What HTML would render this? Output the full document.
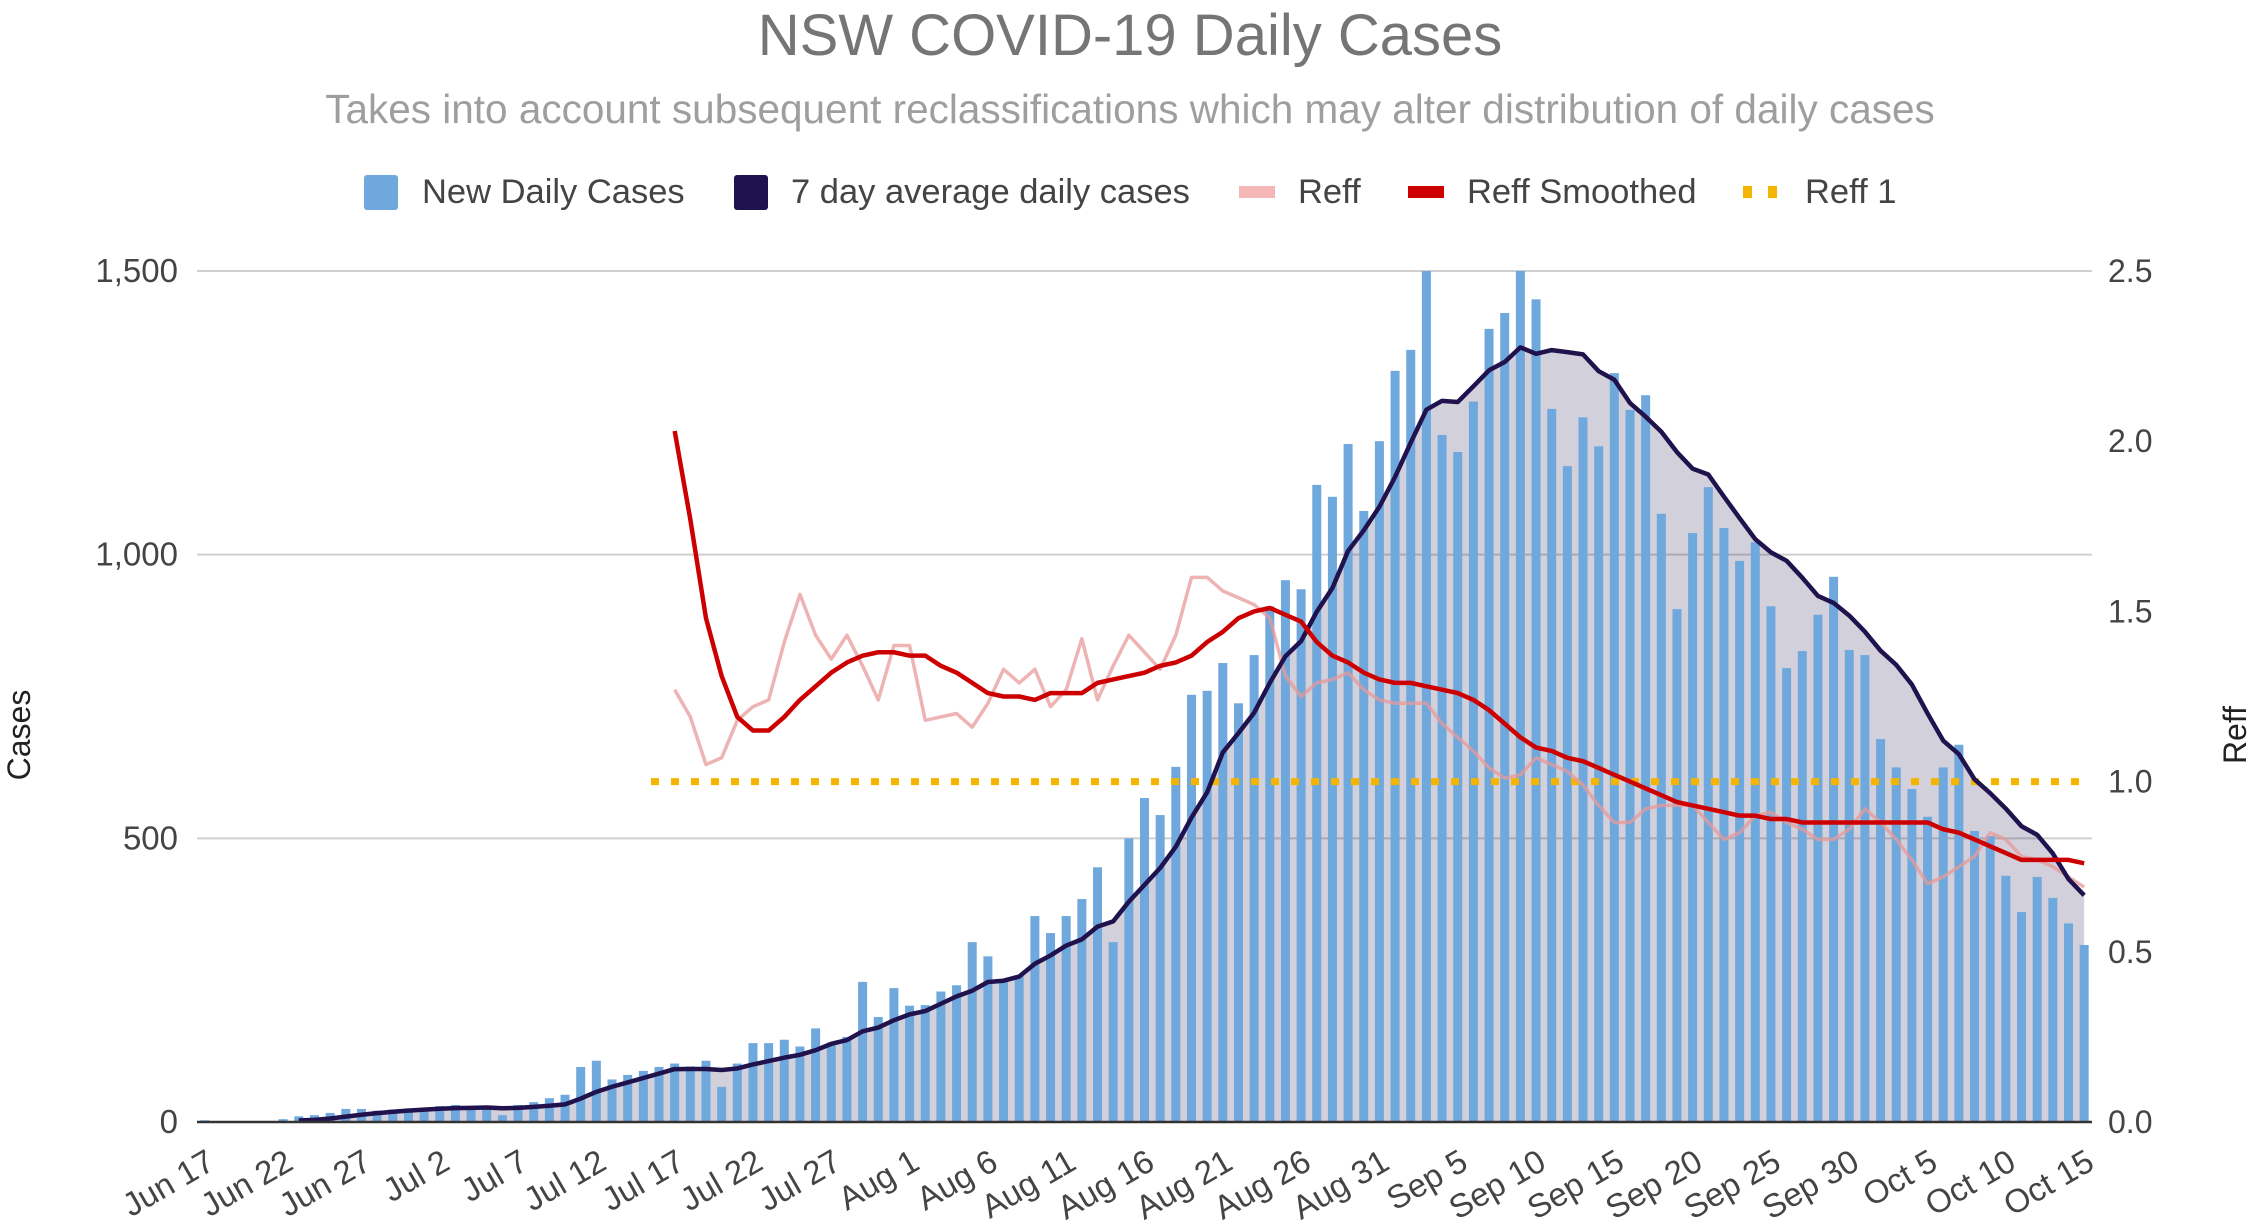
<!DOCTYPE html>
<html><head><meta charset="utf-8"><style>
html,body{margin:0;padding:0;background:#fff;width:2259px;height:1227px;overflow:hidden}
svg text{font-family:"Liberation Sans",Arial,sans-serif}
</style></head><body>
<svg id="chart" width="2259" height="1227" viewBox="0 0 2259 1227" xmlns="http://www.w3.org/2000/svg">
<text x="1130" y="55" text-anchor="middle" font-size="58" fill="#757575">NSW COVID-19 Daily Cases</text>
<text x="1130" y="123" text-anchor="middle" font-size="40.5" fill="#9e9e9e">Takes into account subsequent reclassifications which may alter distribution of daily cases</text>
<g font-size="34.5" fill="#444">
 <g><rect x="364" y="175" width="34" height="35" rx="3" fill="#6fa8dc"/><text x="422" y="203">New Daily Cases</text></g>
 <g><rect x="734" y="175" width="34" height="35" rx="3" fill="#20124d"/><text x="791" y="203">7 day average daily cases</text></g>
 <g><rect x="1239" y="186" width="36" height="12" fill="#f4b6b6"/><text x="1298" y="203">Reff</text></g>
 <g><rect x="1408" y="186" width="36" height="12" fill="#cc0000"/><text x="1467" y="203">Reff Smoothed</text></g>
 <g><rect x="1743" y="186" width="9" height="12" fill="#f4b400"/><rect x="1768" y="186" width="9" height="12" fill="#f4b400"/><text x="1805" y="203">Reff 1</text></g>
</g>
<g id="grid"></g>
<g id="area"></g>
<g id="bars"></g>
<g id="lines"></g>
<g id="axes"></g>
<text transform="translate(30,735) rotate(-90)" text-anchor="middle" font-size="32" fill="#222">Cases</text>
<text transform="translate(2246,735) rotate(-90)" text-anchor="middle" font-size="32" fill="#222">Reff</text>
</svg>
<script>
const cases = [3,0,0,0,0,5,10,12,16,23,23,20,22,24,24,28,30,26,25,12,30,35,42,48,97,108,75,83,90,97,
103,98,108,62,103,139,139,145,133,165,140,150,247,185,236,205,206,230,241,317,292,252,257,363,333,363,393,449,317,500,
571,541,626,753,760,809,738,823,909,955,939,1123,1102,1195,1077,1200,1324,1361,1530,1211,1181,1270,1398,1426,1542,1450,1257,1156,1242,1191,
1320,1255,1281,1072,904,1038,1119,1047,989,1022,909,800,830,894,961,832,823,675,625,587,538,625,665,513,504,434,370,432,395,350,312];
const reffStart = 30;
const reffRaw = [1.27,1.19,1.05,1.07,1.18,1.22,1.24,1.41,1.55,1.43,1.36,1.43,1.34,1.24,1.40,1.40,1.18,1.19,1.20,1.16,
1.23,1.33,1.29,1.33,1.22,1.27,1.42,1.24,1.34,1.43,1.38,1.33,1.43,1.60,1.60,1.56,1.54,1.52,1.48,1.31,
1.25,1.29,1.30,1.32,1.27,1.24,1.23,1.23,1.23,1.17,1.13,1.09,1.04,1.01,1.02,1.07,1.05,1.03,0.99,0.93,
0.88,0.88,0.92,0.93,0.93,0.93,0.88,0.83,0.85,0.90,0.91,0.88,0.86,0.83,0.83,0.86,0.92,0.88,0.83,0.77,
0.70,0.72,0.75,0.78,0.85,0.83,0.78,0.77,0.75,0.72,0.69];
const reffSmooth = [2.03,1.77,1.48,1.31,1.19,1.15,1.15,1.19,1.24,1.28,1.32,1.35,1.37,1.38,1.38,1.37,1.37,1.34,1.32,1.29,
1.26,1.25,1.25,1.24,1.26,1.26,1.26,1.29,1.30,1.31,1.32,1.34,1.35,1.37,1.41,1.44,1.48,1.50,1.51,1.49,
1.47,1.41,1.37,1.35,1.32,1.30,1.29,1.29,1.28,1.27,1.26,1.24,1.21,1.17,1.13,1.10,1.09,1.07,1.06,1.04,
1.02,1.00,0.98,0.96,0.94,0.93,0.92,0.91,0.90,0.90,0.89,0.89,0.88,0.88,0.88,0.88,0.88,0.88,0.88,0.88,
0.88,0.86,0.85,0.83,0.81,0.79,0.77,0.77,0.77,0.77,0.76];
const reffOneStart = 29;
const reffOneValue = 1.0;
const leftTicks = [0,500,1000,1500];
const leftTickLabels = ["0","500","1,000","1,500"];
const rightTicks = [0,0.5,1.0,1.5,2.0,2.5];
const rightTickLabels = ["0.0","0.5","1.0","1.5","2.0","2.5"];
const xLabels = ["Jun 17","Jun 22","Jun 27","Jul 2","Jul 7","Jul 12","Jul 17","Jul 22","Jul 27","Aug 1","Aug 6","Aug 11","Aug 16","Aug 21","Aug 26","Aug 31","Sep 5","Sep 10","Sep 15","Sep 20","Sep 25","Sep 30","Oct 5","Oct 10","Oct 15"];
const xLabelStep = 5;

const NS="http://www.w3.org/2000/svg";
const L=197,R=2092,T=271,B=1122;
const n=cases.length, step=(R-L)/n;
const xc=i=>L+step*(i+0.5);
const yL=v=>B-(Math.min(v,1500)/1500)*(B-T);
const yR=v=>B-(v/2.5)*(B-T);
function mk(tag,attrs,parent){const e=document.createElementNS(NS,tag);for(const k in attrs)e.setAttribute(k,attrs[k]);parent.appendChild(e);return e;}
const grid=document.getElementById('grid'),axes=document.getElementById('axes');
leftTicks.forEach((t,i)=>{
 if(t>0){const g=mk('line',{x1:L,x2:R,y1:yL(t),y2:yL(t),stroke:'#cfcfcf','stroke-width':2},grid);
 
 }
 const tx=mk('text',{x:178,y:yL(t)+11,'text-anchor':'end','font-size':33,fill:'#444'},axes);
 tx.textContent=leftTickLabels[i];
 
 
});
rightTicks.forEach((t,i)=>{
 const tx=mk('text',{x:2108,y:yR(t)+11,'font-size':32,fill:'#444'},axes);
 tx.textContent=rightTickLabels[i];
 
 
});
const avg=[];
for(let i=6;i<n;i++){let s=0;for(let k=i-6;k<=i;k++)s+=cases[k];avg.push([i,s/7]);}
const areaPts=avg.map(p=>xc(p[0])+','+yL(p[1])).join(' ');
const ar=mk('polygon',{points:xc(6)+','+B+' '+areaPts+' '+xc(n-1)+','+B,fill:'#20124d','fill-opacity':0.2},document.getElementById('area'));


const bars=document.getElementById('bars');
cases.forEach((v,i)=>{
 const b=mk('rect',{x:xc(i)-4.5,y:yL(v),width:9,height:B-yL(v),fill:'#6fa8dc'},bars);
 
 
});
const lines=document.getElementById('lines');
const r1=mk('line',{x1:xc(reffOneStart)-8,x2:xc(n-1)+4,y1:yR(reffOneValue),y2:yR(reffOneValue),stroke:'#f4b400','stroke-width':7,'stroke-dasharray':'8 12'},lines);


const rr=mk('polyline',{points:reffRaw.map((v,i)=>xc(reffStart+i)+','+yR(v)).join(' '),fill:'none',stroke:'#e89a9a','stroke-opacity':0.75,'stroke-width':3.5,'stroke-linejoin':'round'},lines);


const av=mk('polyline',{points:areaPts,fill:'none',stroke:'#20124d','stroke-width':4.5,'stroke-linejoin':'round'},lines);


const rs=mk('polyline',{points:reffSmooth.map((v,i)=>xc(reffStart+i)+','+yR(v)).join(' '),fill:'none',stroke:'#cc0000','stroke-width':4.5,'stroke-linejoin':'round'},lines);


const base=mk('line',{x1:L,x2:R,y1:B,y2:B,stroke:'#333','stroke-width':2.5},axes);


xLabels.forEach((lab,j)=>{
 const i=j*xLabelStep, x=xc(i)+12, y=1168;
 const t=mk('text',{x:x,y:y,'text-anchor':'end','font-size':33,fill:'#444',transform:'rotate(-30 '+x+' '+y+')'},axes);
 t.textContent=lab;
 
 
});
</script>
</body></html>
